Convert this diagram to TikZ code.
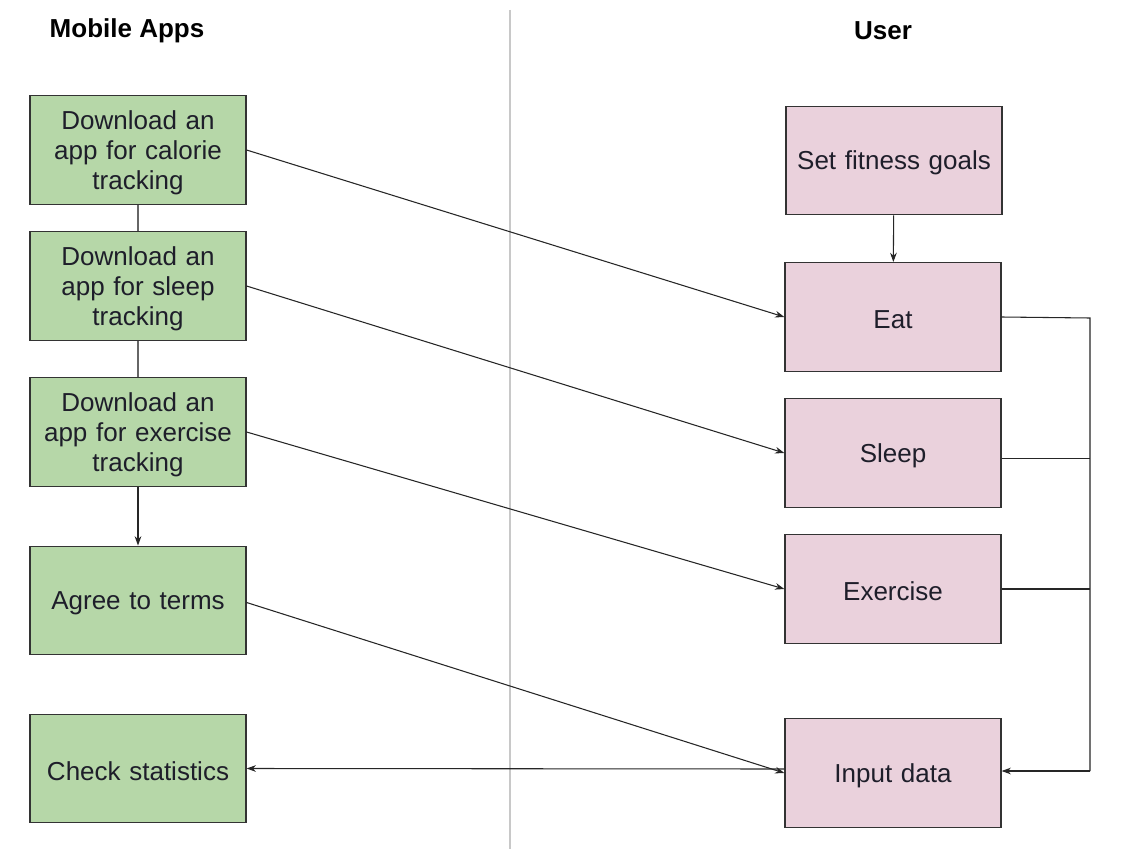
\documentclass[tikz,border=0pt]{standalone}
\usepackage{fontspec}
\setmainfont{Liberation Sans}
\usetikzlibrary{arrows.meta}
\definecolor{gfill}{HTML}{B6D7A8}
\definecolor{pfill}{HTML}{EAD1DC}
\definecolor{edge}{HTML}{333333}
\definecolor{divider}{HTML}{C8C8C8}
\definecolor{ink}{HTML}{1E1E2A}
\begin{document}
\begin{tikzpicture}[x=0.75pt,y=-0.75pt,
  box/.style={draw=edge, line width=0.9pt, minimum width=162pt, minimum height=81.5pt,
    inner sep=2pt, align=center, text width=150pt, text=ink,
    execute at begin node={\rule{0pt}{18pt}},
    font=\fontsize{19.5pt}{22.5pt}\selectfont},
  gbox/.style={box, fill=gfill},
  pbox/.style={box, fill=pfill},
  title/.style={font=\fontsize{19.5pt}{22.5pt}\selectfont\bfseries},
  conn/.style={draw=black!85, line width=0.8pt},
  arr/.style={conn, -{Stealth[length=7pt,width=5pt]}}
]
\useasboundingbox (0,0) rectangle (1121,849);
% divider
\coordinate (dT) at (510,10);
\coordinate (dB) at (510,849);
\draw[divider, line width=1pt] (dT) -- (dB);
% titles
\node[title] (tApps) at (127,31) {Mobile Apps};
\node[title] (tUser) at (883,31) {User};
% left column
\node[gbox] (a1) at (138,150) {Download an\\app for calorie\\tracking};
\node[gbox] (a2) at (138,286) {Download an\\app for sleep\\tracking};
\node[gbox] (a3) at (138,432) {Download an\\app for exercise\\tracking};
\node[gbox] (a4) at (138,600.5) {Agree to terms};
\node[gbox] (a5) at (138,768.5) {Check statistics};
% right column
\node[pbox] (u1) at (894,160.5) {Set fitness goals};
\node[pbox] (u2) at (893,317) {Eat};
\node[pbox] (u3) at (893,453) {Sleep};
\node[pbox] (u4) at (893,589) {Exercise};
\node[pbox] (u5) at (893,773) {Input data};
% left vertical links
\draw[conn, draw=black!60] (a1) -- (a2);
\draw[conn, draw=black!60] (a2) -- (a3);
\draw[arr] (a3) -- (a4);
\draw[arr] (u1) -- (u2);
% cross links
\draw[arr] (a1.east) -- (u2.west);
\draw[arr] (a2.east) -- (u3.west);
\draw[arr] (a3.east) -- (u4.west);
\draw[arr] ([yshift=-1.5pt]a4.east) -- (u5.west);
\draw[arr] ([yshift=3pt]u5.west) -- ([yshift=0pt]a5.east);
% feedback bus
\coordinate (bT) at (1090,318);
\coordinate (bB) at (1090,771);
\draw[conn] (u2.east) -- (bT) -- (bB);
\draw[conn] ([yshift=-4pt]u3.east) -- ([yshift=-4pt]u3.east -| bT);
\draw[conn] (u4.east) -- (u4.east -| bT);
\draw[arr] (bB) -- (bB -| u5.east);
\end{tikzpicture}
\end{document}
